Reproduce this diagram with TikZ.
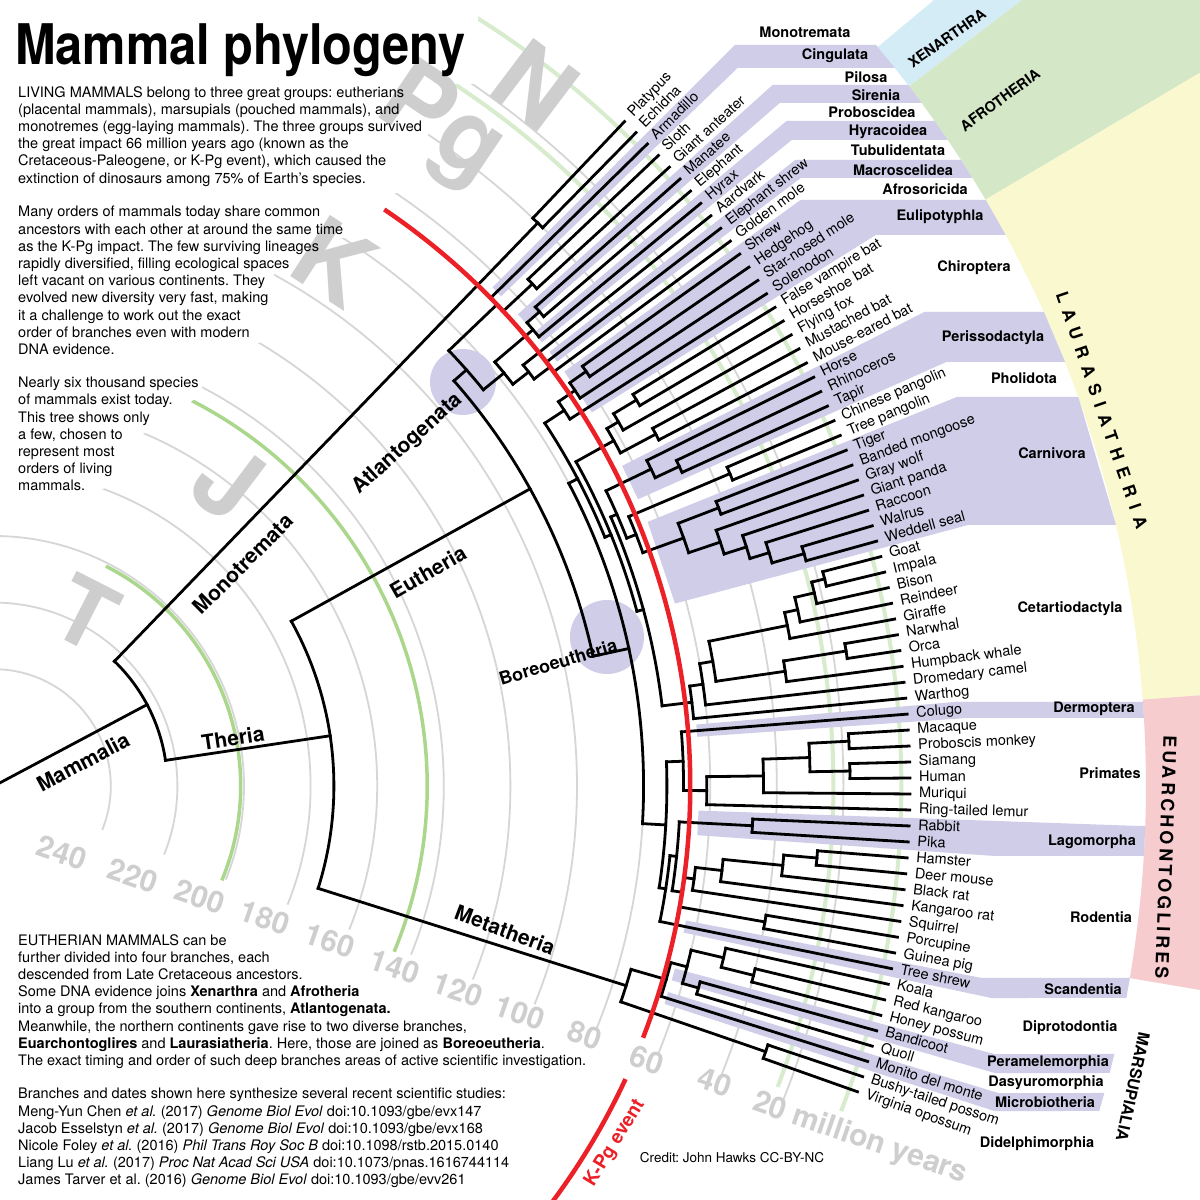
\documentclass[tikz,border=0pt]{standalone}
\usepackage{fontspec}
\setmainfont{TeX Gyre Heros}
\usepackage{graphicx}
\usetikzlibrary{calc}
\frenchspacing

\definecolor{bandlav}{RGB}{207,205,232}
\definecolor{xenblue}{RGB}{212,236,245}
\definecolor{afrgreen}{RGB}{212,232,200}
\definecolor{laurayellow}{RGB}{250,248,206}
\definecolor{euapink}{RGB}{246,204,207}
\definecolor{timegray}{RGB}{214,214,214}
\definecolor{labelgray}{RGB}{206,206,206}
\definecolor{periodgreen}{RGB}{170,215,140}
\definecolor{epochgreen}{RGB}{214,236,204}
\definecolor{kpgred}{RGB}{236,32,39}

% radius of a time (million years) around the centre
\newcommand{\rad}[1]{916-3.33*(#1)}
% node arc at time #1 between angles #2 and #3
\newcommand{\nodearc}[3]{\draw[tree] ($(C)+(#2:{\rad{#1}})$) arc[start angle=#2, end angle=#3, radius={(\rad{#1})*1pt}];}
% lavender clade band: angles #1 > #2, band rows #3..#4 (from top)
\newcommand{\cladeband}[4]{%
  \pgfmathsetmacro\bandyt{786-#3}%
  \pgfmathsetmacro\bandyb{786-#4}%
  \pgfmathsetmacro\bandrh{\bandyt/sin(#1)}%
  \pgfmathsetmacro\bandrl{\bandyb/sin(#2)}%
  \pgfmathsetmacro\bandxt{100*sqrt(11.52*11.52-(\bandyt/100)^2)}%
  \pgfmathsetmacro\bandxb{100*sqrt(11.52*11.52-(\bandyb/100)^2)}%
  \fill[bandlav] ($(C)+(#1:705)$) -- ($(C)+(#1:\bandrh)$) -- ($(C)+(\bandxt,\bandyt)$)
    -- ($(C)+(\bandxb,\bandyb)$) -- ($(C)+(#2:\bandrl)$) -- ($(C)+(#2:705)$) -- cycle;}
% outer coloured sector between two angles
\newcommand{\sector}[3]{\fill[#1] ($(C)+(#2:1152)$) arc[start angle=#2, end angle=#3, radius=1152pt] -- ($(C)+(#3:2200)$) -- ($(C)+(#2:2200)$) -- cycle;}

\tikzset{
  tree/.style={line width=2.8pt, line cap=rect},
  timearc/.style={timegray, line width=1.8pt},
  tiplabel/.style={anchor=west, inner sep=0pt, text height=10.5pt, text depth=3pt, font=\fontsize{14.5}{16}\selectfont},
  cladelabel/.style={inner sep=0pt, font=\fontsize{14.5}{16}\selectfont\bfseries},
  grouplabel/.style={inner sep=0pt, font=\fontsize{14.5}{16}\selectfont\bfseries},
  branchlabel/.style={inner sep=0pt, font=\fontsize{21}{24}\selectfont\bfseries},
  timelabel/.style={inner sep=0pt, labelgray, rotate=-19, font=\fontsize{30}{32}\selectfont\bfseries},
  periodlabel/.style={inner sep=0pt, labelgray, font=\fontsize{100}{100}\selectfont\bfseries},
  bodytext/.style={anchor=north west, inner sep=0pt, align=left, font=\fontsize{14.5}{17.2}\selectfont}
}

\begin{document}
\begin{tikzpicture}[x=1pt, y=1pt]
\useasboundingbox (0,0) rectangle (1200,1200);
\clip (0,0) rectangle (1200,1200);
\fill[white] (0,0) rectangle (1200,1200);
\coordinate (C) at (-6,414);

% outer group sectors
\sector{xenblue}{37.4}{39.9}
\sector{afrgreen}{30.6}{37.4}
\sector{laurayellow}{4.3}{30.6}
\sector{euapink}{-9.6}{4.3}

% time scale
\foreach \t in {20,40,...,240}
  \draw[timearc] ($(C)+(-22:{\rad{\t}})$) arc[start angle=-22, end angle=92, radius={(\rad{\t})*1pt}];
\foreach \t in {201,145}
  \draw[periodgreen, line width=3.5pt] ($(C)+(-22.5:{\rad{\t}})$) arc[start angle=-22.5, end angle=63, radius={(\rad{\t})*1pt}];
\foreach \t in {23,2.6}
  \draw[epochgreen, line width=4pt] ($(C)+(-21:{\rad{\t}})$) arc[start angle=-21, end angle=75, radius={(\rad{\t})*1pt}];

% keep the text corner free of scale arcs
\fill[white] (0,1200) -- (478,1200) -- (478,1116) -- (428,1116) -- (428,1012) -- (352,1000)
  -- (352,962) -- (318,962) -- (318,945) -- (298,945) -- (298,928) -- (274,928) -- (274,894)
  -- (264,894) -- (264,858) -- (150,842) -- (202,828) -- (202,808) -- (182,790) -- (156,774)
  -- (128,757) -- (120,722) -- (92,704) -- (0,700) -- cycle;

% periods
\node[periodlabel, rotate=-27, font=\fontsize{92}{92}\selectfont\bfseries] (perT) at (86,587) {T};
\node[periodlabel, rotate=-37] (perJ) at (228,718) {J};
\node[periodlabel, rotate=-33] (perK) at (335,938) {K};
\node[periodlabel, rotate=-34] (perPg) at (440,1072) {Pg};
\node[periodlabel, rotate=-37] (perN) at (535,1115) {N};

% clade bands
\cladeband{45}{44}{45}{68}
\cladeband{42}{41}{85}{103}
\cladeband{40}{39}{121}{140}
\cladeband{38}{37}{160}{178}
\cladeband{36}{32}{200}{235}
\cladeband{27}{24}{312}{362}
\cladeband{22}{15}{397}{525}
\cladeband{5}{4}{702}{718}
\cladeband{-2}{-4}{826}{856}
\cladeband{-11}{-12}{978}{998}
\cladeband{-15}{-16}{1054}{1073}
\cladeband{-17}{-18}{1093}{1111}

% node bubbles
\fill[bandlav] (463,818) circle[radius=33];
\fill[bandlav] (607,563) circle[radius=37];

% tree
\draw[tree] (C) -- ($(C)+(28:{\rad{223}})$);
\foreach \t/\a/\b in {223/8.5/46, 40/45.5/46.5, 173/-17.53/29, 91/12.22/41.375, 86/39/43.75,
  66/43/44.5, 54/42.5/43.5, 78/37.75/40.25, 63/39.5/41, 58/40.5/41.5, 72/37/38.5, 66/36.5/37.5,
  80/-3.32/27.77, 77/22.16/33.375, 70/32.5/34.25, 64/33.5/35, 58/34.5/35.5, 75/15.2/29.125,
  62/28/30.25, 58/29.5/31, 50/30.5/31.5, 50/27.5/28.5, 73/6.84/23.57, 71/21.39/25.75, 56/25/26.5,
  48/24.5/25.5, 68/19.78/23, 35/22.5/23.5, 55/18.5625/21, 42/20.5/21.5, 45/17.625/19.5,
  38/16.75/18.5, 32/16/17.5, 22/15.5/16.5, 64/5.5/8.17, 60/6.5/9.84, 56/8.25/11.44,
  32/10.5/12.375, 28/11.5/13.25, 22/12.5/14, 18/13.5/14.5, 35/7.5/9, 16/8.5/9.5,
  73/-8.70/2.06, 68/-0.375/4.5, 61/-1.5/0.75, 44/-0.5/2, 30/1/3, 18/2.5/3.5, 18/0.5/1.5,
  71/-11.5/-5.89, 69/-8.78/-3, 47/-3.5/-2.5, 66/-10/-7.56, 63/-8.5/-6.625, 55/-7.5/-5.75,
  37/-6.5/-5, 27/-5.5/-4.5, 40/-10.5/-9.5, 76/-19/-16.06, 65/-17.5/-14.625, 60/-16/-13.25,
  50/-14/-12.5, 40/-14.5/-13.5, 55/-16.5/-15.5, 30/-19.5/-18.5}
  \nodearc{\t}{\a}{\b};
\foreach \a/\p/\c in {46/223/40, 8.5/223/173, 29/173/91, -17.53/173/76, 41.375/91/86,
  12.22/91/80, 43.75/86/66, 39.0/86/78, 43.0/66/54, 40.25/78/63, 37.75/78/72, 41.0/63/58,
  37.0/72/66, 27.77/80/77, -3.32/80/73, 33.375/77/70, 22.16/77/75, 34.25/70/64, 35.0/64/58,
  29.125/75/62, 15.2/75/73, 30.25/62/58, 31.0/58/50, 28.0/62/50, 23.57/73/71, 6.84/73/64,
  25.75/71/56, 21.39/71/68, 25.0/56/48, 23.0/68/35, 19.78/68/55, 21.0/55/42, 18.5625/55/45,
  17.625/45/38, 16.75/38/32, 16.0/32/22, 8.17/64/60, 9.84/60/56, 11.44/56/32, 8.25/56/35,
  12.375/32/28, 13.25/28/22, 14.0/22/18, 9.0/35/16, 2.06/73/68, -8.70/73/71, -0.375/68/61,
  0.75/61/44, 2.0/44/30, 3.0/30/18, 1.0/30/18, -5.89/71/69, -3.0/69/47, -8.78/69/66,
  -7.56/66/63, -10.0/66/40, -6.625/63/55, -5.75/55/37, -5.0/37/27, -16.06/76/65,
  -19.0/76/30, -14.625/65/60, -13.25/60/50, -16.0/60/55, -14.0/50/40}
  \draw[tree] ($(C)+(\a:{\rad{\p}})$) -- ($(C)+(\a:{\rad{\c}})$);

% tips
\foreach \lab/\p [count=\i] in {Platypus/40, Echidna/40, Armadillo/66, Sloth/54,
  Giant anteater/54, Manatee/58, Elephant/58, Hyrax/63, Aardvark/72, Elephant shrew/66,
  Golden mole/66, Shrew/58, Hedgehog/58, Star-nosed mole/64, Solenodon/70,
  False vampire bat/50, Horseshoe bat/50, Flying fox/58, Mustached bat/50,
  Mouse-eared bat/50, Horse/56, Rhinoceros/48, Tapir/48, Chinese pangolin/35,
  Tree pangolin/35, Tiger/42, Banded mongoose/42, Gray wolf/45, Giant panda/38,
  Raccoon/32, Walrus/22, Weddell seal/22, Goat/18, Impala/18, Bison/22, Reindeer/28,
  Giraffe/32, Narwhal/16, Orca/16, Humpback whale/35, Dromedary camel/60, Warthog/64,
  Colugo/68, Macaque/18, Proboscis monkey/18, Siamang/18, Human/18, Muriqui/44,
  Ring-tailed lemur/61, Rabbit/47, Pika/47, Hamster/27, Deer mouse/27, Black rat/37,
  Kangaroo rat/55, Squirrel/63, Porcupine/40, Guinea pig/40, Tree shrew/71, Koala/50,
  Red kangaroo/40, Honey possum/40, Bandicoot/55, Quoll/55, Monito del monte/65,
  Bushy-tailed possom/30, Virginia opossum/30} {
  \pgfmathsetmacro\ang{47.5-\i}
  \draw[tree] ($(C)+(\ang:{\rad{\p}})$) -- ($(C)+(\ang:916)$);
  \node[tiplabel, rotate=\ang] (tip\i) at ($(C)+(\ang:925)$) {\lab};
}

% K-Pg boundary
\draw[kpgred, line width=4.5pt] ($(C)+(-21.2:{\rad{66}})$) arc[start angle=-21.2, end angle=55.9, radius={(\rad{66})*1pt}];
\draw[kpgred, line width=4.5pt] ($(C)+(-24.9:{\rad{66}})$) arc[start angle=-24.9, end angle=-40, radius={(\rad{66})*1pt}];
\node[inner sep=0pt, kpgred, rotate=58.4, font=\fontsize{19}{20}\selectfont\bfseries] (kpg) at (615,57) {K-Pg event};

% time labels
\node[timelabel] (t240) at (62,347) {240};
\node[timelabel] (t220) at (133,324) {220};
\node[timelabel] (t200) at (200,303) {200};
\node[timelabel] (t180) at (265,282) {180};
\node[timelabel] (t160) at (330,259) {160};
\node[timelabel] (t140) at (395,233) {140};
\node[timelabel] (t120) at (458,210) {120};
\node[timelabel] (t100) at (520,187) {100};
\node[timelabel] (t80) at (585,165) {80};
\node[timelabel] (t60) at (647,140) {60};
\node[timelabel] (t40) at (715,118) {40};
\node[timelabel] (t20) at (860,61) {20 million years};

% branch names
\node[branchlabel, rotate=28] (mammalia) at (83,438) {Mammalia};
\node[branchlabel, rotate=45] (monotremata) at (243,636) {Monotremata};
\node[branchlabel, rotate=8.5] (theria) at (233,462) {Theria};
\node[branchlabel, rotate=30] (eutheria) at (428,628) {Eutheria};
\node[branchlabel, rotate=42] (atlantogenata) at (408,756) {Atlantogenata};
\node[branchlabel, rotate=16.7, font=\fontsize{18}{20}\selectfont\bfseries] (boreoeutheria) at (558,538) {Boreoeutheria};
\node[branchlabel, rotate=-20.5] (metatheria) at (505,270) {Metatheria};

% orders
\foreach \lab/\x/\y [count=\i] in {Monotremata/805/32, Cingulata/835/56, Pilosa/866/77,
  Sirenia/876/95, Proboscidea/872/112, Hyracoidea/888/132, Tubulidentata/898/150,
  Macroscelidea/903/170, Afrosoricida/925/189, Eulipotyphla/940/217, Chiroptera/974/268,
  Perissodactyla/993/338, Pholidota/1024/378, Carnivora/1052/453, Cetartiodactyla/1070/609,
  Dermoptera/1094/709, Primates/1110/773, Lagomorpha/1092/842, Rodentia/1101/917,
  Scandentia/1083/989, Diprotodontia/1070/1028, Peramelemorphia/1048/1063,
  Dasyuromorphia/1046/1083, Microbiotheria/1045/1102, Didelphimorphia/1037/1144}
  \node[cladelabel] (order\i) at (\x,1200-\y) {\lab};

% superorders
\node[grouplabel, rotate=35] (xenarthra) at (947,1162) {XENARTHRA};
\node[grouplabel, rotate=36] (afrotheria) at (1000,1100) {AFROTHERIA};
\node[grouplabel, rotate=-71, font=\fontsize{17}{18}\selectfont\bfseries\addfontfeature{LetterSpace=45}] (laurasiatheria) at (1102,790) {LAURASIATHERIA};
\node[grouplabel, rotate=-92, font=\fontsize{18}{19}\selectfont\bfseries\addfontfeature{LetterSpace=18}] (euarchontoglires) at (1166,343) {EUARCHONTOGLIRES};
\node[grouplabel, rotate=-102, font=\fontsize{16}{18}\selectfont\bfseries] (marsupialia) at (1133,113) {MARSUPIALIA};

% texts
\node[anchor=base west, inner sep=0pt, font=\fontsize{56}{60}\selectfont\bfseries] (title) at (15,1135) {\scalebox{0.87}[1]{Mammal phylogeny}};
\node[bodytext] (intro1) at (18,1114) {LIVING MAMMALS belong to three great groups: eutherians\\
(placental mammals), marsupials (pouched mammals), and\\
monotremes (egg-laying mammals). The three groups survived\\
the great impact 66 million years ago (known as the\\
Cretaceous-Paleogene, or K-Pg event), which caused the\\
extinction of dinosaurs among 75\% of Earth’s species.};
\node[bodytext] (intro2) at (18,994) {Many orders of mammals today share common\\
ancestors with each other at around the same time\\
as the K-Pg impact. The few surviving lineages\\
rapidly diversified, filling ecological spaces\\
left vacant on various continents. They\\
evolved new diversity very fast, making\\
it a challenge to work out the exact\\
order of branches even with modern\\
DNA evidence.};
\node[bodytext] (intro3) at (18,823) {Nearly six thousand species\\
of mammals exist today.\\
This tree shows only\\
a few, chosen to\\
represent most\\
orders of living\\
mammals.};
\node[bodytext] (eutext) at (18,266) {EUTHERIAN MAMMALS can be\\
further divided into four branches, each\\
descended from Late Cretaceous ancestors.\\
Some DNA evidence joins \textbf{Xenarthra} and \textbf{Afrotheria}\\
into a group from the southern continents, \textbf{Atlantogenata.}\\
Meanwhile, the northern continents gave rise to two diverse branches,\\
\textbf{Euarchontoglires} and \textbf{Laurasiatheria}. Here, those are joined as \textbf{Boreoeutheria}.\\
The exact timing and order of such deep branches areas of active scientific investigation.};
\node[bodytext] (refs) at (18,112) {Branches and dates shown here synthesize several recent scientific studies:\\
Meng-Yun Chen \textit{et al.} (2017) \textit{Genome Biol Evol} doi:10.1093/gbe/evx147\\
Jacob Esselstyn \textit{et al.} (2017) \textit{Genome Biol Evol} doi:10.1093/gbe/evx168\\
Nicole Foley \textit{et al.} (2016) \textit{Phil Trans Roy Soc B} doi:10.1098/rstb.2015.0140\\
Liang Lu \textit{et al.} (2017) \textit{Proc Nat Acad Sci USA} doi:10.1073/pnas.1616744114\\
James Tarver et al. (2016) \textit{Genome Biol Evol} doi:10.1093/gbe/evv261};
\node[inner sep=0pt, font=\fontsize{13.5}{15}\selectfont] (credit) at (732,42) {Credit: John Hawks CC-BY-NC};
\end{tikzpicture}
\end{document}
